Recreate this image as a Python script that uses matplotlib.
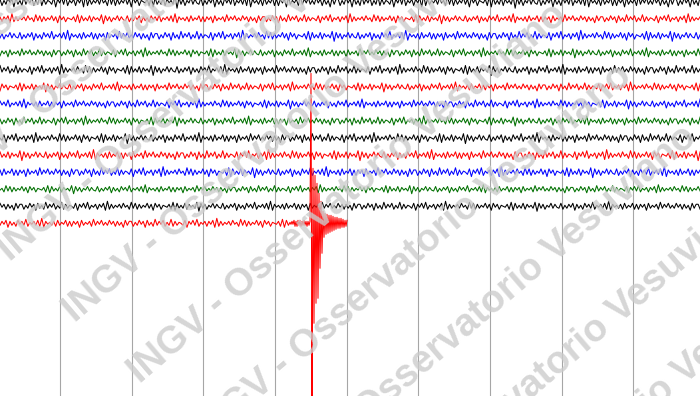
"""Helicorder snapshot: INGV - Osservatorio Vesuviano, local event on the last line."""
import numpy as np, matplotlib; matplotlib.use("Agg")
import matplotlib.pyplot as plt

# helicorder lines, top to bottom (colour cycle of the drum recorder)
TRACE_COLORS = ["black", "red", "blue", "#007000"] * 3 + ["black", "red"]
TRACE_GAIN = [1.3, 1.0, 1.1, 1.0, 1.1, 1.0, 1.0, 1.0, 1.1, 1.1, 1.1, 0.9, 1.0, 1.0]
TRACE_OFFSET = [0, 37, 91, 140, 12, 66, 113, 170, 25, 78, 131, 52, 159, 104]

# background noise counts (one count ~ one pixel), reused along each line
NOISE = [2, -3, 1, -2, 3, -1, 2, -4, 3, -2, 1, -3, 4, -2, 2, -1, 3, -3, 1, -2,
         4, -3, 2, -2, 1, 0, -2, 3, -4, 2, -1, 3, -2, 4, -3, 1, -1, 2, -3, 2,
         -1, 3, -4, 5, -3, 2, -2, 1, -1, 2, -2, 3, -1, 1, -3, 4, -2, 3, -3, 2,
         -2, 1, -1, 3, -2, 2, -4, 3, -1, 2, -3, 1, 0, -1, 2, -3, 4, -4, 3, -2,
         1, -2, 3, -3, 2, -1, 1, -2, 4, -5, 3, -2, 2, -3, 1, -1, 3, -2, 2, -1,
         -2, 3, -3, 1, -2, 2, -1, 3, -4, 2, -2, 1, -3, 3, -1, 2, -2, 4, -3, 1,
         -1, 2, -2, 3, -3, 5, -4, 2, -1, 1, -2, 2, -3, 3, -2, 1, -1, 3, -3, 2,
         -3, 2, -1, 2, -4, 3, -2, 1, -1, 2, -3, 4, -2, 2, -1, 3, -2, 1, -2, 3,
         -1, 2, -3, 2, -2, 1, -4, 3, -2, 2]

# the earthquake on the last line: P onset, S burst, coda (counts, finer sampling)
EVENT_T0 = 4.208  # minutes
EVENT = [1, -1, 2, -1,
         3, -3, 2, -3, 3, -2, 3, -3, 2, -2, 3, -2, 2, -3, 2, -2, 2,
         150, -175, 55, -100, 48, -80, 40, -75, 30, -45, 22, -30, 12, -14, 10, -11,
         9, -10, 8, -9, 8, -8, 7, -7, 6, -6, 6, -5, 5, -5, 5, -4, 4, -4, 3, -3, 3]

GRID_MIN = [1, 2, 3, 4, 5, 6, 7, 8, 9]
XLIM = (0.158, 9.934)
DT, EVENT_DT = 1 / 36, 1 / 71.6
COUNT = 1 / 17.05  # counts -> line spacing

fig = plt.figure(figsize=(7.0, 3.96), dpi=100)
ax = fig.add_axes([0, 0, 1, 1])
ax.set_xlim(*XLIM); ax.set_ylim(23.13, -0.10); ax.axis("off")
for g in GRID_MIN:
    ax.axvline(g, color="#a6a6a6", lw=0.8, zorder=1)

n = int((XLIM[1] - XLIM[0]) / DT) + 2
noise = np.array(NOISE, dtype=float)
for row, (col, gain, off) in enumerate(zip(TRACE_COLORS, TRACE_GAIN, TRACE_OFFSET)):
    t = XLIM[0] + np.arange(n) * DT
    v = noise[(off + np.arange(n)) % len(noise)] * gain
    if row == len(TRACE_COLORS) - 1:
        keep = t < EVENT_T0
        t = np.concatenate([t[keep], EVENT_T0 + np.arange(len(EVENT)) * EVENT_DT])
        v = np.concatenate([v[keep], EVENT])
    ax.plot(t, row - v * COUNT, color=col, lw=0.75, zorder=2)

# tiled watermark
for k in range(-2, 7):
    fig.text((10 + 65 * k) / 700, 1 - (262 + 61 * k) / 396, "INGV - Osservatorio Vesuviano",
             rotation=40.5, rotation_mode="anchor", ha="left", va="baseline",
             fontsize=27.5, family="Liberation Sans", weight="bold",
             color="#cccccc", alpha=0.8, zorder=10)

fig.savefig("out.png", dpi=100)
